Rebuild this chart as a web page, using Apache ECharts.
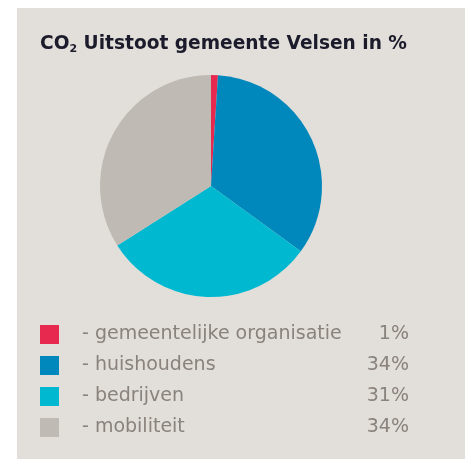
<!DOCTYPE html>
<html><head><meta charset="utf-8">
<script src="https://cdn.jsdelivr.net/npm/echarts@6/dist/echarts.min.js"></script>
<style>html,body{margin:0;padding:0;background:#fff}#c{width:465px;height:459px}</style>
</head><body><div id="c"></div>
<script>
const categories = ['gemeentelijke organisatie', 'huishoudens', 'bedrijven', 'mobiliteit'];
const values = [1, 34, 31, 34];
const valueLabels = ['1%', '34%', '31%', '34%'];
const colors = ['#e8294f', '#0087bb', '#00b9d1', '#bfbab3'];

const chart = echarts.init(document.getElementById('c'));
const labelMap = {};
categories.forEach((c, i) => labelMap[c] = valueLabels[i]);
chart.setOption({
  animation: false,
  graphic: [{type: 'rect', z: -10, shape: {x: 17, y: 8, width: 448, height: 451}, style: {fill: '#e2ded9'}}],
  title: {
    left: 35, top: 29,
    text: '{a|CO}{s|2}{a| Uitstoot gemeente Velsen in %}',
    textStyle: {
      rich: {
        a: {fontFamily: 'DejaVu Sans', fontWeight: 'bold', fontSize: 18.6, color: '#1b1b2b'},
        s: {fontFamily: 'DejaVu Sans', fontWeight: 'bold', fontSize: 11, color: '#1b1b2b', padding: [10, 0, 0, 0]}
      }
    }
  },
  legend: {
    orient: 'vertical', left: 40, top: 325, padding: 0,
    icon: 'rect', itemWidth: 19, itemHeight: 19, itemGap: 12,
    selectedMode: false,
    formatter: name => '{n|- ' + name + '}{v|' + labelMap[name] + '}',
    textStyle: {
      rich: {
        n: {fontFamily: 'DejaVu Sans', fontSize: 19, color: '#8a827c', width: 276, padding: [0, 0, 0, 18]},
        v: {fontFamily: 'DejaVu Sans', fontSize: 19, color: '#8a827c', width: 51, align: 'right'}
      }
    }
  },
  series: [{
    type: 'pie', center: [211, 186], radius: 111, startAngle: 90, clockwise: true,
    label: {show: false}, labelLine: {show: false},
    itemStyle: {borderWidth: 0},
    data: categories.map((c, i) => ({name: c, value: values[i], itemStyle: {color: colors[i]}}))
  }]
});
</script></body></html>
